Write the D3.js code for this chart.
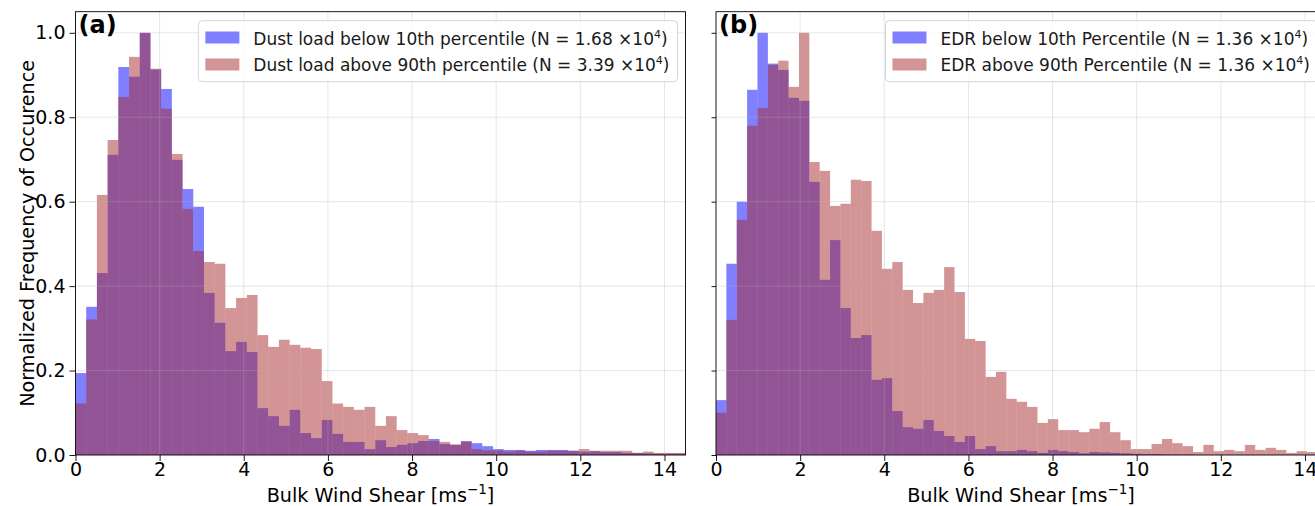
<!DOCTYPE html>
<html>
<head>
<meta charset="utf-8">
<script src="https://d3js.org/d3.v7.min.js"></script>
<style>
  html, body { margin: 0; padding: 0; background: #fff; }
  svg { display: block; font-family: "DejaVu Sans", sans-serif; }
</style>
</head>
<body>
<svg id="chart" width="1315" height="506"></svg>
<script>
// ---------------- DATA ----------------
const xTicks = [0, 2, 4, 6, 8, 10, 12, 14];
const yTicks = [0.0, 0.2, 0.4, 0.6, 0.8, 1.0];
const xDomain = [0, 14.5];
const yDomain = [0, 1.05];

// bin widths (units of m/s) for each panel
const binWidthA = 0.2545;
const binWidthB = 0.2465;

// Panel (a): dust load
const blueA = [0.194,0.351,0.431,0.711,0.919,0.896,1.0,0.913,0.867,0.699,0.630,0.588,0.384,0.313,0.246,0.268,0.244,0.111,0.092,0.069,0.107,0.052,0.040,0.083,0.050,0.031,0.031,0.014,0.035,0.019,0.024,0.028,0.033,0.038,0.026,0.024,0.033,0.028,0.021,0.014,0.012,0.012,0.010,0.012,0.012,0.012,0.010,0.008,0.009,0.007,0.007,0.005,0.005,0.004,0.003,0.003,0.003];
const redA  = [0.122,0.321,0.616,0.746,0.848,0.943,1.0,0.915,0.820,0.713,0.583,0.483,0.457,0.453,0.348,0.372,0.379,0.284,0.256,0.273,0.261,0.254,0.251,0.175,0.122,0.114,0.107,0.114,0.069,0.092,0.059,0.052,0.047,0.033,0.031,0.025,0.031,0.014,0.011,0.011,0.008,0.010,0.008,0.008,0.010,0.010,0.010,0.014,0.010,0.010,0.010,0.010,0.005,0.008,0.005,0.005,0.005];

// Panel (b): EDR
const blueB = [0.130,0.453,0.600,0.865,1.0,0.927,0.912,0.846,0.839,0.647,0.415,0.509,0.348,0.277,0.284,0.178,0.182,0.104,0.066,0.062,0.083,0.057,0.045,0.031,0.045,0.014,0.021,0.009,0.009,0.012,0.009,0.005,0.012,0.009,0.007,0.004,0.007,0.006,0.005,0.004,0.003,0.002,0.002,0.001,0.001,0.001];
const redB  = [0.100,0.320,0.557,0.780,0.822,0.924,0.934,0.872,1.0,0.694,0.673,0.590,0.595,0.652,0.649,0.531,0.441,0.457,0.391,0.360,0.384,0.391,0.445,0.386,0.275,0.270,0.185,0.197,0.133,0.126,0.114,0.076,0.085,0.059,0.059,0.054,0.062,0.078,0.054,0.035,0.014,0.014,0.026,0.038,0.028,0.021,0.007,0.024,0.009,0.012,0.009,0.024,0.012,0.017,0.012,0.005,0.009,0.007];

const panelLabels = ["(a)", "(b)"];
const legendA = [
  {text: "Dust load below 10th percentile (N = 1.68 \u00d710", exp: "4"},
  {text: "Dust load above 90th percentile (N = 3.39 \u00d710", exp: "4"}
];
const legendB = [
  {text: "EDR below 10th Percentile (N = 1.36 \u00d710", exp: "4"},
  {text: "EDR above 90th Percentile (N = 1.36 \u00d710", exp: "4"}
];
const xLabel = {text: "Bulk Wind Shear [ms", sup: "\u22121", tail: "]"};
const yLabel = "Normalized Frequency of Occurence";

// ---------------- STYLE ----------------
const blueColor = "rgba(0,0,255,0.5)";
const redColor = "rgba(165,42,42,0.5)";
const tickFont = 19;
const labelFont = 19.2;
const legendFont = 17;

const svg = d3.select("#chart");
svg.append("rect").attr("width", 1315).attr("height", 506).attr("fill", "#fff");

const axTop = 11.7, axBottom = 455, axWidth = 610;
const panels = [
  {left: 75.5, blue: blueA, red: redA, bw: binWidthA, legend: legendA, label: panelLabels[0], showY: true, yTick: 6},
  {left: 716, blue: blueB, red: redB, bw: binWidthB, legend: legendB, label: panelLabels[1], showY: false, yTick: 4.5}
];

panels.forEach((p, pi) => {
  const x = d3.scaleLinear().domain(xDomain).range([p.left, p.left + axWidth]);
  const y = d3.scaleLinear().domain(yDomain).range([axBottom, axTop]);
  const g = svg.append("g");

  const clipId = "clip" + pi;
  g.append("clipPath").attr("id", clipId).append("rect")
    .attr("x", p.left).attr("y", axTop).attr("width", axWidth).attr("height", axBottom - axTop);

  const bars = g.append("g").attr("clip-path", `url(#${clipId})`);
  const drawSeries = (vals, color) => {
    bars.append("g").selectAll("rect").data(vals).join("rect")
      .attr("x", (d, i) => x(i * p.bw))
      .attr("width", (d, i) => x((i + 1) * p.bw) - x(i * p.bw))
      .attr("y", d => y(d))
      .attr("height", d => y(0) - y(d))
      .attr("fill", color);
  };
  drawSeries(p.blue, blueColor);
  drawSeries(p.red, redColor);

  // grid
  const grid = g.append("g").attr("stroke", "#b0b0b0").attr("stroke-opacity", 0.32).attr("stroke-width", 1);
  xTicks.filter(t => t > 0).forEach(t => {
    grid.append("line").attr("x1", x(t)).attr("x2", x(t)).attr("y1", axTop).attr("y2", axBottom);
  });
  yTicks.filter(t => t > 0).forEach(t => {
    grid.append("line").attr("x1", p.left).attr("x2", p.left + axWidth).attr("y1", y(t)).attr("y2", y(t));
  });

  // axes
  const xa = g.append("g").attr("transform", `translate(0,${axBottom})`)
    .call(d3.axisBottom(x).tickValues(xTicks).tickFormat(d3.format("d")).tickSize(6).tickPadding(2));
  xa.select(".domain").remove();
  xa.selectAll("text").attr("font-size", tickFont).attr("font-family", "DejaVu Sans").attr("fill", "#000");
  xa.selectAll("line").attr("stroke", "#000").attr("stroke-width", 0.9);

  const ya = g.append("g").attr("transform", `translate(${p.left},0)`)
    .call(d3.axisLeft(y).tickValues(yTicks).tickFormat(p.showY ? d3.format(".1f") : () => "").tickSize(p.yTick).tickPadding(4));
  ya.select(".domain").remove();
  ya.selectAll("text").attr("font-size", tickFont).attr("font-family", "DejaVu Sans").attr("fill", "#000");
  ya.selectAll("line").attr("stroke", "#000").attr("stroke-width", 0.9);

  // spines
  g.append("rect").attr("x", p.left).attr("y", axTop).attr("width", axWidth).attr("height", axBottom - axTop)
    .attr("fill", "none").attr("stroke", "#000").attr("stroke-width", 0.9);

  // x label
  const xl = g.append("text").attr("x", p.left + axWidth / 2).attr("y", 501.5)
    .attr("text-anchor", "middle").attr("font-size", labelFont).attr("fill", "#000");
  xl.append("tspan").text(xLabel.text);
  xl.append("tspan").attr("font-size", 13.5).attr("dy", -8).text(xLabel.sup);
  xl.append("tspan").attr("dy", 8).text(xLabel.tail);

  // panel label
  g.append("text").attr("x", p.left + 3).attr("y", 33).attr("font-size", 24).attr("font-weight", "bold")
    .attr("fill", "#000").text(p.label);

  // legend
  const lg = g.append("g");
  const texts = [];
  p.legend.forEach((item, i) => {
    const t = lg.append("text").attr("y", 44.5 + i * 26.5).attr("font-size", legendFont).attr("fill", "#1a1a1a");
    t.append("tspan").text(item.text);
    t.append("tspan").attr("font-size", 11).attr("dy", -7).text(item.exp);
    t.append("tspan").attr("dy", 7).text(")");
    texts.push(t);
  });
  const textW = d3.max(texts, t => t.node().getComputedTextLength());
  const boxRight = p.left + axWidth - 8;
  const boxW = 7 + 34 + 14 + textW + 8;
  const boxLeft = boxRight - boxW;
  lg.insert("rect", ":first-child").attr("x", boxLeft).attr("y", 20.7).attr("width", boxW).attr("height", 61)
    .attr("rx", 4).attr("fill", "rgba(255,255,255,0.8)").attr("stroke", "#d5d5d5").attr("stroke-width", 1);
  [blueColor, redColor].forEach((c, i) => {
    lg.append("rect").attr("x", boxLeft + 7).attr("y", 31.5 + i * 27).attr("width", 34).attr("height", 12).attr("fill", c);
  });
  texts.forEach(t => t.attr("x", boxLeft + 7 + 34 + 14));
});

// y label (only on first panel)
svg.append("text").attr("transform", `translate(34,${(axTop + axBottom) / 2}) rotate(-90)`)
  .attr("text-anchor", "middle").attr("font-size", labelFont).attr("fill", "#000").text(yLabel);
</script>
</body>
</html>
